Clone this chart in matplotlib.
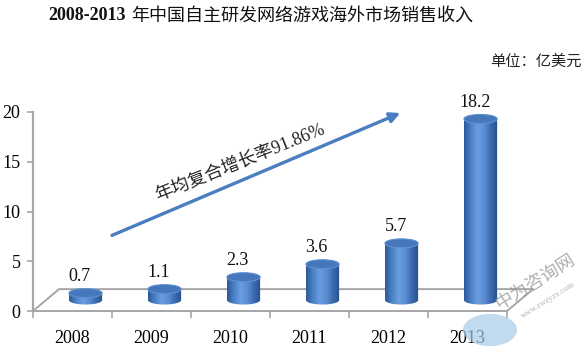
import matplotlib
matplotlib.use("Agg")
import matplotlib.pyplot as plt
import numpy as np
from matplotlib.patches import Ellipse, PathPatch, Circle
from matplotlib.path import Path
from matplotlib.colors import LinearSegmentedColormap

years = ["2008", "2009", "2010", "2011", "2012", "2013"]
values = [0.7, 1.1, 2.3, 3.6, 5.7, 18.2]
labels = ["0.7", "1.1", "2.3", "3.6", "5.7", "18.2"]
yticks = [0, 5, 10, 15, 20]

serif_cjk = ["Liberation Serif", "Noto Sans CJK SC"]
plt.rcParams["font.family"] = serif_cjk

fig = plt.figure(figsize=(5.86, 3.51), dpi=100)
ax = fig.add_axes([33 / 586, 40 / 351, 474 / 586, 199 / 351])
ax.set_xlim(-0.5, 5.5)
ax.set_ylim(0, 20)

grey = "#A6A6A6"
for s in ["top", "right"]:
    ax.spines[s].set_visible(False)
ax.spines["left"].set_color(grey)
ax.spines["left"].set_linewidth(1.6)
ax.spines["bottom"].set_color(grey)
ax.spines["bottom"].set_linewidth(1.4)

ax.set_yticks(yticks)
ax.tick_params(axis="y", direction="out", length=4, width=1.2, color=grey,
               labelsize=13, pad=5)
ax.set_xticks(range(len(years)))
ax.set_xticklabels(years)
ax.set_xticks(np.arange(-0.5, 6, 1), minor=True)
ax.tick_params(axis="x", which="major", length=0, labelsize=13, pad=14)
ax.tick_params(axis="x", which="minor", direction="out", length=5, width=1.2, color=grey)

# floor of the 3D chart
dx, dy = 0.33, 2.2
ax.plot([-0.5, -0.5 + dx, 5.5 + dx, 5.5], [0, dy, dy, 0], color=grey, lw=1.4,
        clip_on=False, zorder=1)

# cylinders
cmap = LinearSegmentedColormap.from_list(
    "cyl", ["#2C5A98", "#4C80C6", "#6A9EE0", "#5A8ED3", "#3C6BAD", "#26508C"])
grad = np.linspace(0, 1, 64).reshape(1, -1)
w = 0.42
eh = 0.9
off_x = 0.165
base = 1.1
for i, v in enumerate(values):
    cx = i + off_x
    top = base + v
    t = np.linspace(np.pi, 2 * np.pi, 40)
    bx = cx + w / 2 * np.cos(t)
    by = base + eh / 2 * np.sin(t)
    t2 = np.linspace(0, np.pi, 40)
    tx = cx + w / 2 * np.cos(t2)
    ty = top + eh / 2 * np.sin(t2)
    verts = np.vstack([np.column_stack([bx, by]), np.column_stack([tx, ty]), [[bx[0], by[0]]]])
    codes = [Path.MOVETO] + [Path.LINETO] * (len(verts) - 2) + [Path.CLOSEPOLY]
    patch = PathPatch(Path(verts, codes), facecolor="none", edgecolor="none")
    ax.add_patch(patch)
    im = ax.imshow(grad, cmap=cmap, aspect="auto", zorder=3,
                   extent=[cx - w / 2, cx + w / 2, base - eh / 2, top + eh / 2])
    im.set_clip_path(patch)
    ax.add_patch(Ellipse((cx, top), w, eh, facecolor="#4677BA",
                         edgecolor="#5E90D2", lw=0.8, zorder=4))
    ax.text(i + 0.09, top + eh / 2 + 0.35, labels[i], ha="center", va="bottom",
            fontsize=13, color="#111111", zorder=5)

ax.set_xlim(-0.5, 5.5)
ax.set_ylim(0, 20)

# growth arrow
ax.annotate("", xy=(4.15, 19.9), xytext=(0.5, 7.6),
            arrowprops=dict(arrowstyle="-|>,head_length=0.6,head_width=0.3",
                            color="#4A7EC1", lw=2.4, shrinkA=0, shrinkB=0),
            annotation_clip=False)
ax.text(2.12, 14.9, "年均复合增长率91.86%", rotation=22, rotation_mode="anchor",
        ha="center", va="center", fontsize=13, color="#222222")

# title: bold digits, regular Chinese
fig.text(48 / 586, 1 - 16 / 351, "2008-2013", ha="left", va="center",
         fontsize=13, fontweight="bold", color="#111111")
fig.text(131 / 586, 1 - 16 / 351, "年中国自主研发网络游戏海外市场销售收入",
         ha="left", va="center", fontsize=13, color="#111111")
fig.text(582 / 586, 1 - 62 / 351, "单位：亿美元", ha="right", va="center",
         fontsize=11, color="#222222")

# watermark
fig.patches.append(Circle((490 / 586, 1 - 330 / 351), 27 / 586, transform=fig.transFigure,
                          facecolor="#A8CBE8", edgecolor="none", alpha=0.7, zorder=0))
fig.text(535 / 586, 1 - 282 / 351, "中为咨询网", rotation=32, ha="center", va="center",
         fontsize=13, color="#9A9A9A", alpha=0.8, family="Noto Sans CJK SC")
fig.text(548 / 586, 1 - 300 / 351, "www.zwzyzx.com", rotation=32, ha="center",
         va="center", fontsize=6, color="#A0A0A0", alpha=0.8)

fig.savefig("out.png", dpi=100)
